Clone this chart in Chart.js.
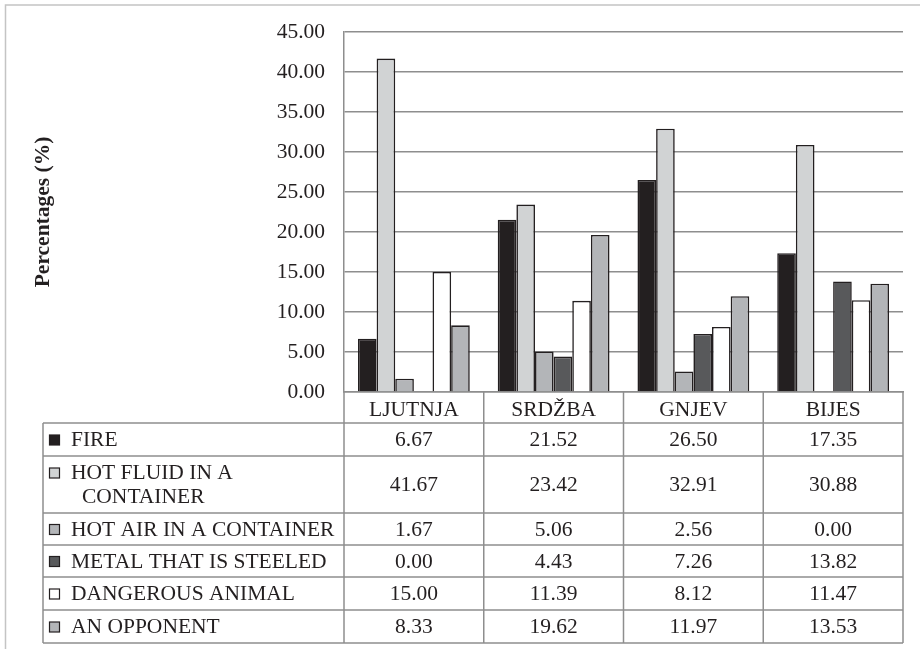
<!DOCTYPE html>
<html>
<head>
<meta charset="utf-8">
<script src="https://cdn.jsdelivr.net/npm/chart.js@4/dist/chart.umd.min.js"></script>
<style>
  html, body { margin: 0; padding: 0; background: #ffffff; }
  #wrap { width: 920px; height: 649px; }
</style>
</head>
<body>
<div id="wrap"><canvas id="c" width="920" height="649"></canvas></div>
<script>
// Emotion words (Croatian) on the category axis
const categories = ['LJUTNJA', 'SRDŽBA', 'GNJEV', 'BIJES'];

// Percentages per source domain
const fire      = [6.67, 21.52, 26.50, 17.35];
const hotFluid  = [41.67, 23.42, 32.91, 30.88];
const hotAir    = [1.67, 5.06, 2.56, 0.00];
const metal     = [0.00, 4.43, 7.26, 13.82];
const animal    = [15.00, 11.39, 8.12, 11.47];
const opponent  = [8.33, 19.62, 11.97, 13.53];

const seriesNames = ['FIRE', 'HOT FLUID IN A CONTAINER', 'HOT AIR IN A CONTAINER',
                     'METAL THAT IS STEELED', 'DANGEROUS ANIMAL', 'AN OPPONENT'];
// Row captions in the data table (wrapped where the cell is too narrow)
const rowCaptions = [['FIRE'], ['HOT FLUID IN A', 'CONTAINER'], ['HOT AIR IN A CONTAINER'],
                     ['METAL THAT IS STEELED'], ['DANGEROUS ANIMAL'], ['AN OPPONENT']];

const yTicksMin = 0, yTicksMax = 45, yTicksStep = 5;

const seriesValues = [fire, hotFluid, hotAir, metal, animal, opponent];
const fills = ['#231f20', '#d1d3d4', '#b3b5b8', '#58595b', '#ffffff', '#b3b5b8'];

const SERIF = "'Liberation Serif', Tinos, 'DejaVu Serif', serif";
const FONT_PX = 21.5;
const INK = '#231f20';
const RULE = '#8e8e8e';

// Data table drawn under the plot, aligned to the category scale
const tablePlugin = {
  id: 'dataTable',
  beforeDraw(chart) {
    const ctx = chart.ctx;
    ctx.save();
    ctx.strokeStyle = '#c4c4c4';
    ctx.lineWidth = 1.5;
    ctx.beginPath();
    ctx.moveTo(5.5, 700);
    ctx.lineTo(5.5, 5);
    ctx.lineTo(930, 5);
    ctx.stroke();
    ctx.restore();
  },
  afterDraw(chart) {
    const ctx = chart.ctx;
    const xs = chart.scales.x;
    const area = chart.chartArea;
    const n = categories.length;
    const catW = (xs.right - xs.left) / n;
    const top = area.bottom;            // header row starts at the axis line
    const headerH = 31;
    const rowH = [33, 57, 32, 32, 33, 33];
    const tableLeft = 43;
    const right = xs.right;

    const ys = [top + headerH];
    rowH.forEach(h => ys.push(ys[ys.length - 1] + h));
    const bottom = ys[ys.length - 1];

    ctx.save();
    ctx.strokeStyle = RULE;
    ctx.lineWidth = 1.5;
    ctx.beginPath();
    ys.forEach(y => { ctx.moveTo(tableLeft, y); ctx.lineTo(right, y); });
    for (let i = 0; i <= n; i++) {
      const x = xs.left + i * catW;
      ctx.moveTo(x, top); ctx.lineTo(x, bottom);
    }
    ctx.moveTo(tableLeft, ys[0]); ctx.lineTo(tableLeft, bottom);
    ctx.stroke();

    // values
    ctx.fillStyle = INK;
    ctx.font = FONT_PX + 'px ' + SERIF;
    ctx.textAlign = 'center';
    ctx.textBaseline = 'middle';
    seriesValues.forEach((vals, r) => {
      const cy = (ys[r] + ys[r + 1]) / 2 + 1;
      vals.forEach((v, c) => {
        ctx.fillText(v.toFixed(2), xs.left + (c + 0.5) * catW, cy);
      });
    });

    // row captions with colour keys
    ctx.textAlign = 'left';
    rowCaptions.forEach((lines, r) => {
      const rowTop = ys[r], rowBot = ys[r + 1];
      const lh = 24;
      const block = lines.length * lh;
      const firstY = (rowTop + rowBot) / 2 - block / 2 + lh / 2 + 1;
      const sq = 10;
      ctx.fillStyle = fills[r];
      ctx.fillRect(49.5, firstY - 5.5, sq, sq);
      ctx.strokeStyle = INK;
      ctx.lineWidth = 1.2;
      ctx.strokeRect(49.5, firstY - 5.5, sq, sq);
      ctx.fillStyle = INK;
      lines.forEach((t, k) => {
        ctx.fillText(t, k === 0 ? 71 : 82, firstY + k * lh);
      });
    });
    ctx.restore();
  }
};

function build() {
  new Chart(document.getElementById('c'), {
    type: 'bar',
    data: {
      labels: categories,
      datasets: seriesValues.map((vals, i) => ({
        label: seriesNames[i],
        data: vals,
        backgroundColor: fills[i],
        borderColor: INK,
        borderWidth: 1.6,
        categoryPercentage: 0.8,
        barPercentage: 1.0
      }))
    },
    options: {
      responsive: false,
      animation: false,
      devicePixelRatio: 1,
      layout: { padding: { left: 0, right: 17, top: 28, bottom: 0 } },
      plugins: {
        legend: { display: false },
        tooltip: { enabled: false }
      },
      scales: {
        x: {
          grid: { display: false, drawTicks: false },
          border: { display: true, color: RULE, width: 1.5 },
          ticks: {
            color: INK,
            font: { family: SERIF, size: FONT_PX },
            padding: 5,
            maxRotation: 0
          },
          afterFit(scale) { scale.height = 257; }
        },
        y: {
          min: yTicksMin,
          max: yTicksMax,
          grid: { color: RULE, lineWidth: 1.5, drawTicks: false },
          border: { display: true, color: RULE, width: 1.5 },
          ticks: {
            stepSize: yTicksStep,
            color: INK,
            font: { family: SERIF, size: FONT_PX },
            padding: 19,
            callback: v => Number(v).toFixed(2)
          },
          title: {
            display: true,
            text: 'Percentages (%)',
            color: INK,
            font: { family: SERIF, size: FONT_PX, weight: 'bold' },
            padding: { top: 31, bottom: 0 }
          },
          afterFit(scale) { scale.width = 344; }
        }
      }
    },
    plugins: [tablePlugin]
  });
}

Promise.all([
  document.fonts.load(FONT_PX + "px 'Liberation Serif'"),
  document.fonts.load("bold " + FONT_PX + "px 'Liberation Serif'")
]).catch(() => {}).then(build);
</script>
</body>
</html>
